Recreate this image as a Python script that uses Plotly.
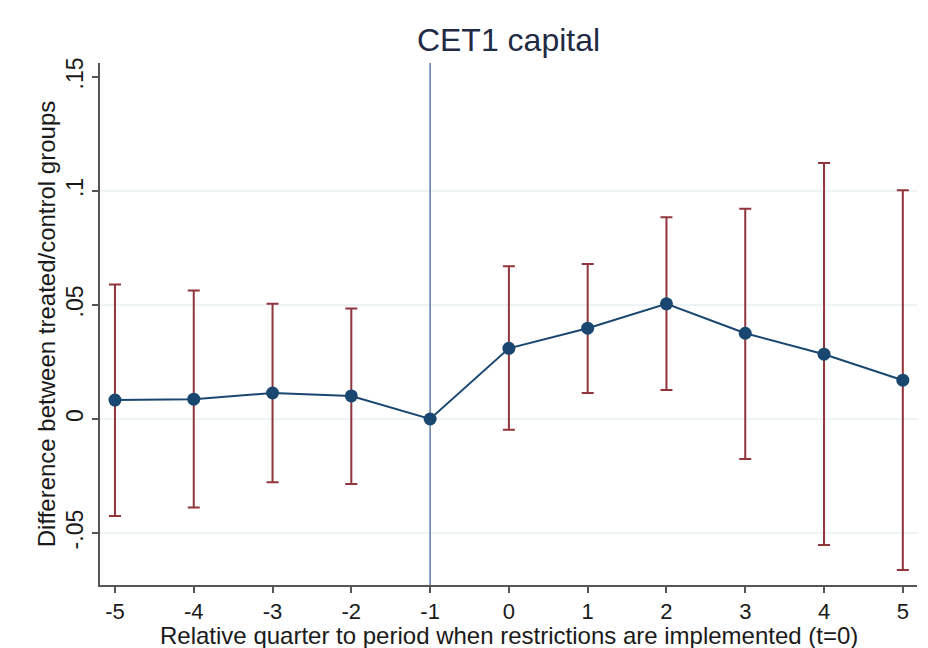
import plotly.graph_objects as go

quarters = [-5, -4, -3, -2, -1, 0, 1, 2, 3, 4, 5]
estimate = [0.0083, 0.0087, 0.0114, 0.0101, 0.0, 0.0310, 0.0398, 0.0505, 0.0376, 0.0284, 0.0170]
ci_upper = [0.0590, 0.0563, 0.0505, 0.0485, 0.0, 0.0670, 0.0680, 0.0885, 0.0922, 0.1122, 0.1003]
ci_lower = [-0.0425, -0.0388, -0.0277, -0.0285, 0.0, -0.0047, 0.0114, 0.0127, -0.0175, -0.0553, -0.0662]

ytick_vals = [-0.05, 0, 0.05, 0.1, 0.15]
ytick_text = ["-.05", "0", ".05", ".1", ".15"]
grid_vals = [-0.05, 0, 0.05, 0.1]
event_quarter = -1

title_text = "CET1 capital"
x_title = "Relative quarter to period when restrictions are implemented (t=0)"
y_title = "Difference between treated/control groups"

NAVY = "#1a476f"
MAROON = "#90353b"
FONT = "Liberation Sans, Arial, sans-serif"

err_plus = [u - e for u, e in zip(ci_upper, estimate)]
err_minus = [e - l for e, l in zip(estimate, ci_lower)]

fig = go.Figure()

# confidence intervals (caps)
fig.add_trace(go.Scatter(
    x=quarters, y=estimate, mode="markers",
    marker=dict(size=1, color="rgba(0,0,0,0)"),
    error_y=dict(type="data", symmetric=False, array=err_plus, arrayminus=err_minus,
                 color=MAROON, thickness=2, width=6),
    hoverinfo="skip", showlegend=False,
))

# point estimates
fig.add_trace(go.Scatter(
    x=quarters, y=estimate, mode="lines+markers",
    line=dict(color=NAVY, width=2),
    marker=dict(size=13, color=NAVY),
    showlegend=False,
))

shapes = []
for g in grid_vals:
    shapes.append(dict(type="line", xref="paper", x0=0, x1=1, yref="y", y0=g, y1=g,
                       line=dict(color="#e8eff2", width=1.5), layer="below"))
shapes.append(dict(type="line", xref="x", x0=event_quarter, x1=event_quarter,
                   yref="paper", y0=0, y1=1,
                   line=dict(color="#5b7fa3", width=1.5), layer="below"))

fig.update_layout(
    width=920, height=640,
    margin=dict(l=92, r=11, t=55, b=63),
    paper_bgcolor="white", plot_bgcolor="white",
    font=dict(family=FONT, color="#1a1a1a"),
    title=dict(text=title_text, xref="paper", x=0.5, xanchor="center", y=0.95, yanchor="middle",
               font=dict(size=32, color="#1f2a44")),
    shapes=shapes,
    annotations=[dict(text=x_title, xref="paper", x=0.5, xanchor="center",
                      yref="paper", y=0, yanchor="middle", yshift=-50, showarrow=False,
                      font=dict(size=24, family=FONT, color="#1a1a1a"))],
    xaxis=dict(
        range=[-5.19, 5.18], tickmode="array", tickvals=quarters,
        ticktext=[str(q) for q in quarters],
        showgrid=False, zeroline=False,
        showline=True, linecolor="#555555", linewidth=1.5,
        ticks="outside", ticklen=6, tickcolor="#555555", tickwidth=1.5,
        tickfont=dict(size=22, family=FONT, color="#1a1a1a"),
    ),
    yaxis=dict(
        range=[-0.0728, 0.1561], tickmode="array", tickvals=ytick_vals, ticktext=ytick_text,
        tickangle=-90, ticklabelstandoff=0,
        showgrid=False, zeroline=False,
        showline=True, linecolor="#555555", linewidth=1.5,
        ticks="outside", ticklen=6, tickcolor="#555555", tickwidth=1.5,
        tickfont=dict(size=23, family=FONT, color="#1a1a1a"),
        title=dict(text=y_title, font=dict(size=24, family=FONT, color="#1a1a1a"), standoff=0),
    ),
)

fig.write_html("out.html")
